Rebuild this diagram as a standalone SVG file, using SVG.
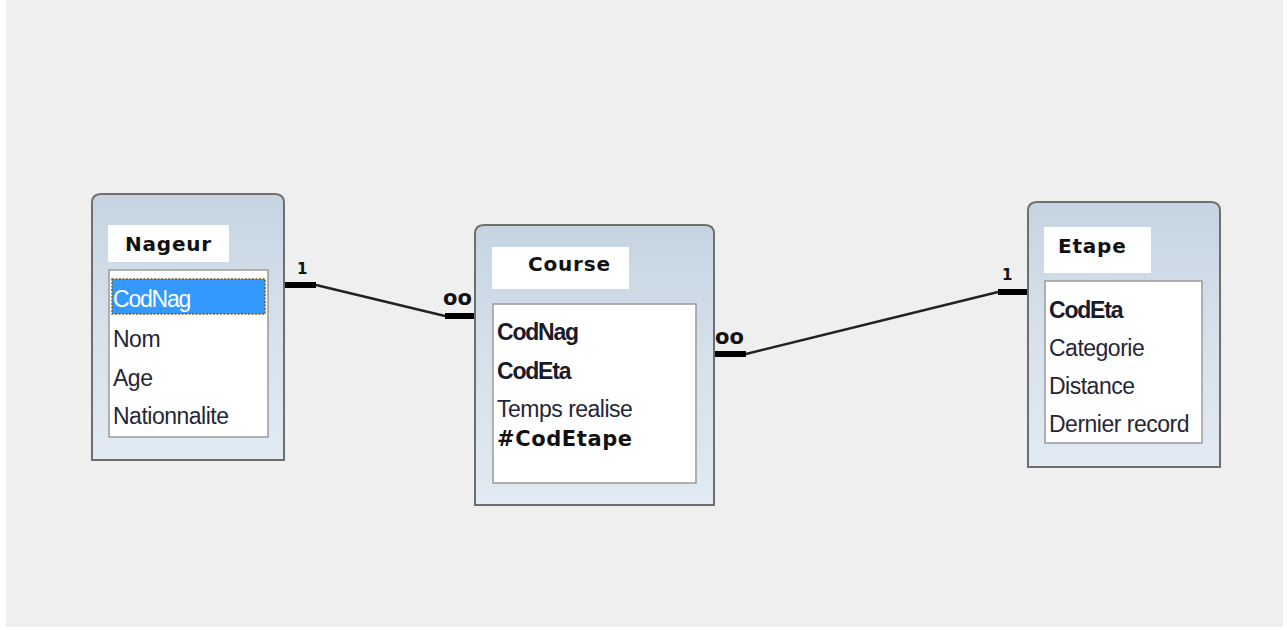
<svg xmlns="http://www.w3.org/2000/svg" width="1287" height="630" viewBox="0 0 1287 630">
<defs>
<linearGradient id="tbl" x1="0" y1="0" x2="0" y2="1">
<stop offset="0" stop-color="#c6d4e2"/>
<stop offset="0.5" stop-color="#d6e1ec"/>
<stop offset="1" stop-color="#e2eaf3"/>
</linearGradient>
<style>
.frame{fill:url(#tbl);stroke:#6e6e6e;stroke-width:2}
.title{fill:#ffffff}
.list{fill:#ffffff;stroke:#9a9a9a;stroke-width:1.5}
.tt{font-family:"DejaVu Sans",sans-serif;font-size:20px;font-weight:bold;fill:#111;letter-spacing:0.8px}
.f{font-family:"Liberation Sans",sans-serif;font-size:23px;fill:#262636;letter-spacing:-0.5px}
.fb{font-weight:bold;fill:#1a1a2a;letter-spacing:-1.2px}
.fc{font-family:"DejaVu Sans",sans-serif;font-size:21px;font-weight:bold;fill:#111;letter-spacing:0.6px}
.thin{stroke:#222;stroke-width:2.5;fill:none}
.stub{stroke:#000;stroke-width:6;fill:none}
.card{font-family:"DejaVu Sans",sans-serif;font-weight:bold;fill:#111}
</style>
</defs>
<rect x="6" y="0" width="1277" height="627" fill="#efefef"/>
<g id="connectors">
<line class="stub" x1="284" y1="285" x2="316" y2="285"/>
<line class="thin" x1="316" y1="285" x2="445" y2="316"/>
<line class="stub" x1="445" y1="316" x2="475" y2="316"/>
<text class="card" x="297" y="274" font-size="15">1</text>
<text class="card" x="443" y="305" font-size="21">oo</text>
<line class="stub" x1="714" y1="354" x2="746" y2="354"/>
<line class="thin" x1="746" y1="354" x2="998" y2="292"/>
<line class="stub" x1="998" y1="292" x2="1028" y2="292"/>
<text class="card" x="715" y="344" font-size="21">oo</text>
<text class="card" x="1002" y="280" font-size="15">1</text>
</g>
<g id="Nageur">
<path class="frame" d="M92,460 V203 Q92,194 101,194 H275 Q284,194 284,203 V460 Z"/>
<rect class="title" x="108" y="225" width="121" height="37"/>
<text class="tt" x="125" y="251">Nageur</text>
<rect class="list" x="109" y="270" width="159" height="167"/>
<rect x="112" y="279" width="153" height="35" fill="#3399ff" stroke="#8a5a20" stroke-width="1.5" stroke-dasharray="2,1.5"/>
<text class="f" x="113" y="307" style="fill:#ffffff;letter-spacing:-1.2px">CodNag</text>
<text class="f" x="113" y="347">Nom</text>
<text class="f" x="113" y="386">Age</text>
<text class="f" x="113" y="424">Nationnalite</text>
</g>
<g id="Course">
<path class="frame" d="M475,505 V234 Q475,225 484,225 H705 Q714,225 714,234 V505 Z"/>
<rect class="title" x="492" y="247" width="137" height="42"/>
<text class="tt" x="528" y="271">Course</text>
<rect class="list" x="493" y="304" width="203" height="179"/>
<text class="f fb" x="497" y="340">CodNag</text>
<text class="f fb" x="497" y="379">CodEta</text>
<text class="f" x="497" y="417">Temps realise</text>
<text class="fc" x="497" y="446">#CodEtape</text>
</g>
<g id="Etape">
<path class="frame" d="M1028,467 V211 Q1028,202 1037,202 H1211 Q1220,202 1220,211 V467 Z"/>
<rect class="title" x="1044" y="227" width="107" height="46"/>
<text class="tt" x="1058" y="253">Etape</text>
<rect class="list" x="1045" y="281" width="157" height="162"/>
<text class="f fb" x="1049" y="318">CodEta</text>
<text class="f" x="1049" y="356">Categorie</text>
<text class="f" x="1049" y="394">Distance</text>
<text class="f" x="1049" y="432">Dernier record</text>
</g>
</svg>
